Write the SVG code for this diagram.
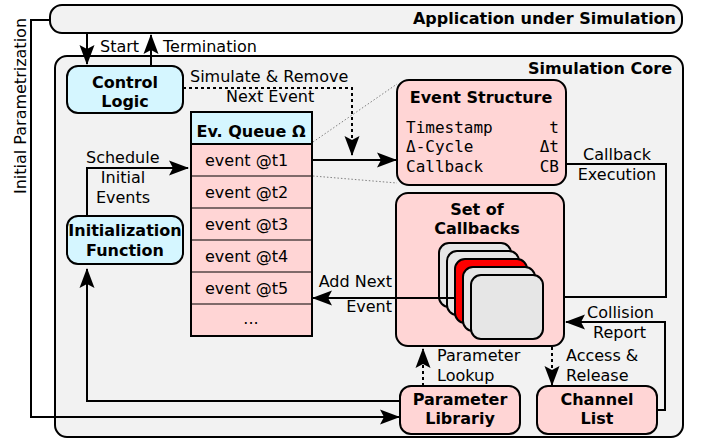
<svg xmlns="http://www.w3.org/2000/svg" width="702" height="439" viewBox="0 0 702 439">
<defs>
<marker id="ah" markerUnits="userSpaceOnUse" markerWidth="22" markerHeight="16" refX="19" refY="7.5" orient="auto" overflow="visible">
<path d="M0,0 L20,7.5 L0,15 L4,7.5 z" fill="#000"/>
</marker>
<style>
text{font-family:"DejaVu Sans","Liberation Sans",sans-serif;font-size:16px;fill:#000}
.b{font-weight:bold}
.m{font-family:"DejaVu Sans Mono","Liberation Mono",monospace}
.c{text-anchor:middle}
.e{text-anchor:end}
.blue{fill:#d5f6ff;stroke:#000;stroke-width:2}
.pink{fill:#ffd5d5;stroke:#000;stroke-width:2}
.card{fill:#e6e6e6;stroke:#000;stroke-width:2}
.ln{fill:none;stroke:#000;stroke-width:2}
.arr{fill:none;stroke:#000;stroke-width:2;marker-end:url(#ah)}
.dash{fill:none;stroke:#000;stroke-width:2;stroke-dasharray:3,3;marker-end:url(#ah)}
.dot{fill:none;stroke:#808080;stroke-width:1;stroke-dasharray:1.5,2}
</style>
</defs>
<g id="app">
<rect x="50" y="5" width="632" height="28" rx="12" fill="#f2f2f2" stroke="#000" stroke-width="2"/>
<text class="b e" x="676" y="24">Application under Simulation</text>
</g>
<g id="core">
<rect x="55" y="56" width="628" height="381" rx="12" fill="#f2f2f2" stroke="#000" stroke-width="2"/>
<text class="b e" x="672" y="74">Simulation Core</text>
</g>
<g id="connectors">
<path class="arr" d="M87,33 V64"/>
<path class="arr" d="M151,66 V35"/>
<path class="dash" d="M183,88 H352 V155"/>
<path class="dot" d="M313,142 L397,84"/>
<path class="dot" d="M313,176 L397,183"/>
<path class="arr" d="M312,160 H396"/>
<path class="arr" d="M87,216 V168 H188"/>
<path class="arr" d="M566,164 H666 V297 H544"/>
<path class="arr" d="M657,410 H665 V322 H566"/>
<path class="dash" d="M423,386 V349"/>
<path class="dash" d="M552,347 V385"/>
<path class="arr" d="M400,401 H87 V269"/>
<path class="arr" d="M50,20 H31 V417 H399"/>
</g>
<g id="labels">
<text x="100" y="52">Start</text>
<text x="163" y="52">Termination</text>
<text x="190" y="82">Simulate &amp; Remove</text>
<text x="226" y="102">Next Event</text>
<text x="86" y="163">Schedule</text>
<text class="c" x="123" y="183">Initial</text>
<text class="c" x="123" y="203">Events</text>
<text class="c" x="617" y="160">Callback</text>
<text class="c" x="617" y="180">Execution</text>
<text class="e" x="392" y="287">Add Next</text>
<text class="e" x="392" y="312">Event</text>
<text x="587" y="318">Collision</text>
<text x="593" y="338">Report</text>
<text x="437" y="361">Parameter</text>
<text x="437" y="381">Lookup</text>
<text x="566" y="361">Access &amp;</text>
<text x="566" y="381">Release</text>
<text class="c" transform="translate(26,106) rotate(-90)">Initial Parametrization</text>
</g>
<g id="control-logic">
<rect class="blue" x="67" y="66" width="116" height="47" rx="11"/>
<text class="b c" x="125" y="88">Control</text>
<text class="b c" x="125" y="107">Logic</text>
</g>
<g id="init-function">
<rect class="blue" x="67" y="216" width="116" height="48" rx="11"/>
<text class="b c" x="125" y="236">Initialization</text>
<text class="b c" x="125" y="256">Function</text>
</g>
<g id="event-queue">
<rect x="191" y="112" width="121" height="32" fill="#d5f6ff" stroke="#000" stroke-width="2"/>
<rect x="191" y="144" width="121" height="192" fill="#ffd5d5" stroke="#000" stroke-width="2"/>
<path d="M191,176 H312 M191,208 H312 M191,240 H312 M191,272 H312 M191,304 H312" stroke="#000" stroke-width="1.2"/>
<text class="b c" x="251" y="137">Ev. Queue Ω</text>
<text x="205" y="166">event @t1</text>
<text x="205" y="198">event @t2</text>
<text x="205" y="230">event @t3</text>
<text x="205" y="262">event @t4</text>
<text x="205" y="294">event @t5</text>
<text class="c" x="251" y="324">...</text>
</g>
<g id="event-structure">
<rect class="pink" x="397" y="80" width="169" height="105" rx="12"/>
<text class="b c" x="481" y="103">Event Structure</text>
<text class="m" x="406" y="133">Timestamp</text>
<text class="m" x="406" y="152">Δ-Cycle</text>
<text class="m" x="406" y="172">Callback</text>
<text class="m e" x="559" y="133">t</text>
<text class="m e" x="559" y="152">Δt</text>
<text class="m e" x="559" y="172">CB</text>
</g>
<g id="set-of-callbacks">
<rect class="pink" x="396" y="193" width="168" height="153" rx="12"/>
<text class="b c" x="477" y="215">Set of</text>
<text class="b c" x="477" y="234">Callbacks</text>
<rect class="card" x="439" y="243" width="72" height="64" rx="10"/>
<rect class="card" x="447" y="251" width="72" height="64" rx="10"/>
<rect x="455" y="259" width="72" height="64" rx="10" fill="#ff0000" stroke="#000" stroke-width="2"/>
<rect class="card" x="463" y="267" width="72" height="64" rx="10"/>
<rect class="card" x="471" y="275" width="72" height="64" rx="10"/>
<path class="arr" d="M455,298 H313"/>
</g>
<g id="parameter-library">
<rect class="pink" x="400" y="386" width="120" height="48" rx="11"/>
<text class="b c" x="460" y="405">Parameter</text>
<text class="b c" x="460" y="424">Librariy</text>
</g>
<g id="channel-list">
<rect class="pink" x="537" y="386" width="120" height="48" rx="11"/>
<text class="b c" x="597" y="405">Channel</text>
<text class="b c" x="597" y="424">List</text>
</g>
</svg>
